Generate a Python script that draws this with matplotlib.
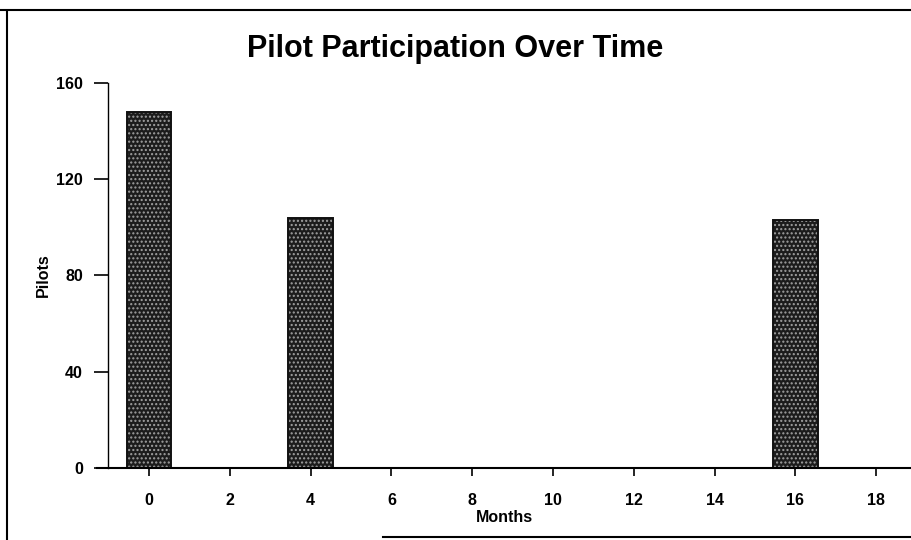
import matplotlib
matplotlib.use("Agg")
from matplotlib import pyplot as plt
from matplotlib.lines import Line2D

plt.rcParams['font.family'] = ['Liberation Sans', 'DejaVu Sans']
plt.rcParams['hatch.linewidth'] = 1.0

months = [0, 4, 16]
pilots = [148, 104, 103]
x_ticks = [0, 2, 4, 6, 8, 10, 12, 14, 16, 18]
y_ticks = [0, 40, 80, 120, 160]

fig = plt.figure(figsize=(9.11, 5.4), dpi=100)
ax = fig.add_axes([0.1065, 0.1328, 0.8935, 0.7141])

ax.bar(months, pilots, width=1.1, color='#1c1c1c', edgecolor='#a0a0a0',
       hatch='....', linewidth=0)
ax.bar(months, pilots, width=1.1, fill=False, edgecolor='#111111', linewidth=1.4)

ax.set_xlim(-1.287, 18.86)
ax.set_ylim(0, 160)
ax.set_xticks(x_ticks)
ax.set_yticks(y_ticks)
ax.spines['top'].set_visible(False)
ax.spines['right'].set_visible(False)
ax.spines['left'].set_position(('data', -1.015))
ax.spines['left'].set_linewidth(1.0)
ax.spines['bottom'].set_linewidth(1.5)
ax.tick_params(axis='y', direction='out', length=10, width=1.2, labelsize=11.5, pad=8)
ax.tick_params(axis='x', direction='out', length=6, width=1.2, labelsize=11.5, pad=12)
for lbl in ax.get_xticklabels() + ax.get_yticklabels():
    lbl.set_fontweight('bold')

ax.set_xlabel('Months', fontsize=11.5, fontweight='bold', labelpad=1)
ax.set_ylabel('Pilots', fontsize=11.5, fontweight='bold', labelpad=4)
fig.text(0.5, 0.91, 'Pilot Participation Over Time', ha='center', va='center',
         fontsize=22, fontweight='bold')

# scanned page frame
fig.add_artist(Line2D([0.008, 0.008], [0.0, 0.98], color='black', lw=1.5))
fig.add_artist(Line2D([0.0, 1.0], [0.981, 0.981], color='black', lw=1.5))
fig.add_artist(Line2D([0.42, 1.0], [0.006, 0.006], color='black', lw=1.5))

fig.savefig('out.png', dpi=100)
